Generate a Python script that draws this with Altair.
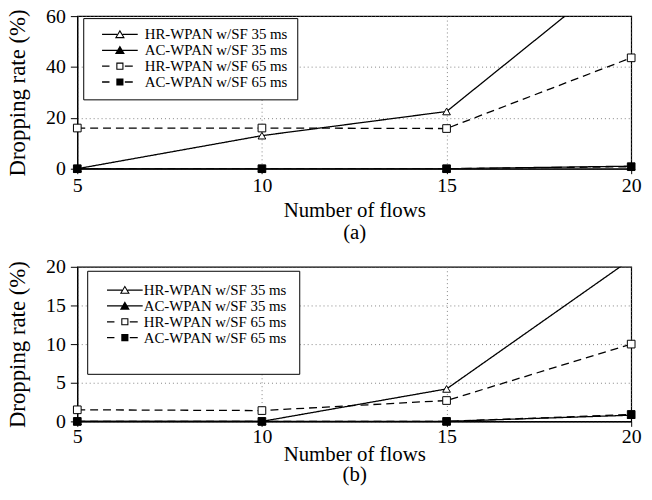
import altair as alt
import pandas as pd

# ---------------- data ----------------
flows = [5, 10, 15, 20]
series_names = ["HR-WPAN w/SF 35 ms", "AC-WPAN w/SF 35 ms",
                "HR-WPAN w/SF 65 ms", "AC-WPAN w/SF 65 ms"]

# panel (a)
a_hr35 = [0, 13, 22.5, 81]
a_ac35 = [0, 0, 0, 1.0]
a_hr65 = [16, 16, 15.8, 43.6]
a_ac65 = [0, 0, 0, 0.8]

# panel (b)
b_hr35 = [0, 0, 4.2, 21]
b_ac35 = [0, 0, 0, 0.8]
b_hr65 = [1.5, 1.4, 2.7, 10]
b_ac65 = [0, 0, 0, 0.9]

y_ticks_a = [0, 20, 40, 60]
y_ticks_b = [0, 5, 10, 15, 20]
x_ticks = [5, 10, 15, 20]

FONT = "Liberation Serif"


def long_df(values_list):
    rows = []
    for name, vals in zip(series_names, values_list):
        for x, v in zip(flows, vals):
            rows.append({"flows": x, "rate": v, "series": name})
    return pd.DataFrame(rows)


# ---------------- legend symbols (line + marker as custom paths) ----------------
def fmt(v):
    return f"{v:.3f}".rstrip("0").rstrip(".")


def poly(pts):
    s = "M" + fmt(pts[0][0]) + "," + fmt(pts[0][1])
    for px, py in pts[1:]:
        s += "L" + fmt(px) + "," + fmt(py)
    return s + "Z"


def seg(x1, x2, t=0.13):
    return poly([(x1, -t), (x2, -t), (x2, t), (x1, t)])


def ring(outer, inset):
    cx = sum(p[0] for p in outer) / len(outer)
    cy = sum(p[1] for p in outer) / len(outer)
    inner = [(cx + (px - cx) * inset, cy + (py - cy) * inset) for px, py in outer]
    return poly(outer) + poly(list(reversed(inner)))


XM = 2.5
L0, L1 = -1.1, 6.1
tri_pts = [(XM, -0.95), (XM + 1.0, 0.75), (XM - 1.0, 0.75)]
sq_pts = [(XM - 0.72, -0.72), (XM + 0.72, -0.72), (XM + 0.72, 0.72), (XM - 0.72, 0.72)]

legend_paths = [
    seg(L0, XM - 0.56) + seg(XM + 0.56, L1) + ring(tri_pts, 0.62),
    seg(L0, L1) + poly(tri_pts),
    seg(L0, 0.4) + seg(XM + 1.0, 5.1) + ring(sq_pts, 0.7),
    seg(L0, 0.4) + seg(XM + 1.0, 5.1) + poly(sq_pts),
]


def panel(df, ymax, yticks, caption, height, x_lab_pad, x_title_pad, line_h,
          leg_x, leg_y, leg_pad, sym_off, lab_off, leg_title):
    base = alt.Chart(df)
    x = alt.X("flows:Q",
              scale=alt.Scale(domain=[5, 20], nice=False, zero=False),
              axis=alt.Axis(values=x_ticks, title=["Number of flows", caption],
                            tickSize=5, labelPadding=x_lab_pad,
                            titlePadding=x_title_pad, titleLineHeight=line_h,
                            titleFontSize=21))
    y = alt.Y("rate:Q",
              scale=alt.Scale(domain=[0, ymax], nice=False),
              axis=alt.Axis(values=yticks, title="Dropping rate (%)",
                            tickSize=7, labelPadding=5, titlePadding=16,
                            titleFontSize=23))

    lines = base.mark_line(clip=True, color="black", strokeWidth=1.3).encode(
        x=x, y=y,
        detail="series:N",
        strokeDash=alt.StrokeDash(
            "series:N",
            scale=alt.Scale(domain=series_names,
                            range=[[1, 0], [1, 0], [8, 5], [8, 5]]),
            legend=None),
    )

    points = base.transform_filter(f"datum.rate <= {ymax}").mark_point(
        filled=True, stroke="black", strokeWidth=1, size=60, opacity=1
    ).encode(
        x=x, y=y,
        shape=alt.Shape("series:N",
                        scale=alt.Scale(domain=series_names,
                                        range=["triangle-up", "triangle-up",
                                               "square", "square"]),
                        legend=None),
        fill=alt.Fill("series:N",
                      scale=alt.Scale(domain=series_names,
                                      range=["white", "black", "white", "black"]),
                      legend=None),
    )

    legend_kw = dict(
        orient="none", legendX=leg_x, legendY=leg_y, padding=leg_pad,
        symbolSize=100, symbolStrokeWidth=0, symbolOffset=sym_off,
        symbolFillColor="black", symbolOpacity=1,
        labelFont=FONT, labelFontSize=15, labelColor="black",
        labelOffset=lab_off, rowPadding=-2,
        strokeColor="black", fillColor="white",
    )
    if leg_title:
        legend_kw.update(title=leg_title, titleOrient="bottom",
                         titleFontSize=14, titlePadding=2, titleFont=FONT)
    else:
        legend_kw.update(title=None)

    legend_layer = base.transform_filter("false").mark_point(
        filled=True, color="black", opacity=1, strokeWidth=0
    ).encode(
        x=x, y=y,
        shape=alt.Shape("series:N",
                        scale=alt.Scale(domain=series_names, range=legend_paths),
                        legend=alt.Legend(**legend_kw)),
    )

    return alt.layer(lines, points, legend_layer).resolve_scale(
        shape="independent"
    ).properties(width=559, height=height)


top = panel(long_df([a_hr35, a_ac35, a_hr65, a_ac65]), 60, y_ticks_a, "(a)",
            154, 2, 4, 22, 6, 2, 9, 8, 30, None)
bottom = panel(long_df([b_hr35, b_ac35, b_hr65, b_ac65]), 20, y_ticks_b, "(b)",
               156, 0, -3, 21, 10, 4, 12, 6, 24, "\u00a0")

chart = alt.vconcat(top, bottom, spacing=13).properties(
    padding={"left": 6, "top": 3, "right": 10, "bottom": 5}
).configure_view(
    stroke="black", strokeWidth=1.2
).configure_axis(
    labelFont=FONT, labelFontSize=20, labelColor="black",
    titleFont=FONT, titleFontWeight="normal", titleColor="black",
    domainColor="black", tickColor="black", domainWidth=1.2,
    grid=True, gridColor="#666666", gridDash=[1, 3], gridWidth=0.8,
    labelFlush=False,
)

chart.save("out.html", embed_options={"renderer": "svg", "actions": False})
